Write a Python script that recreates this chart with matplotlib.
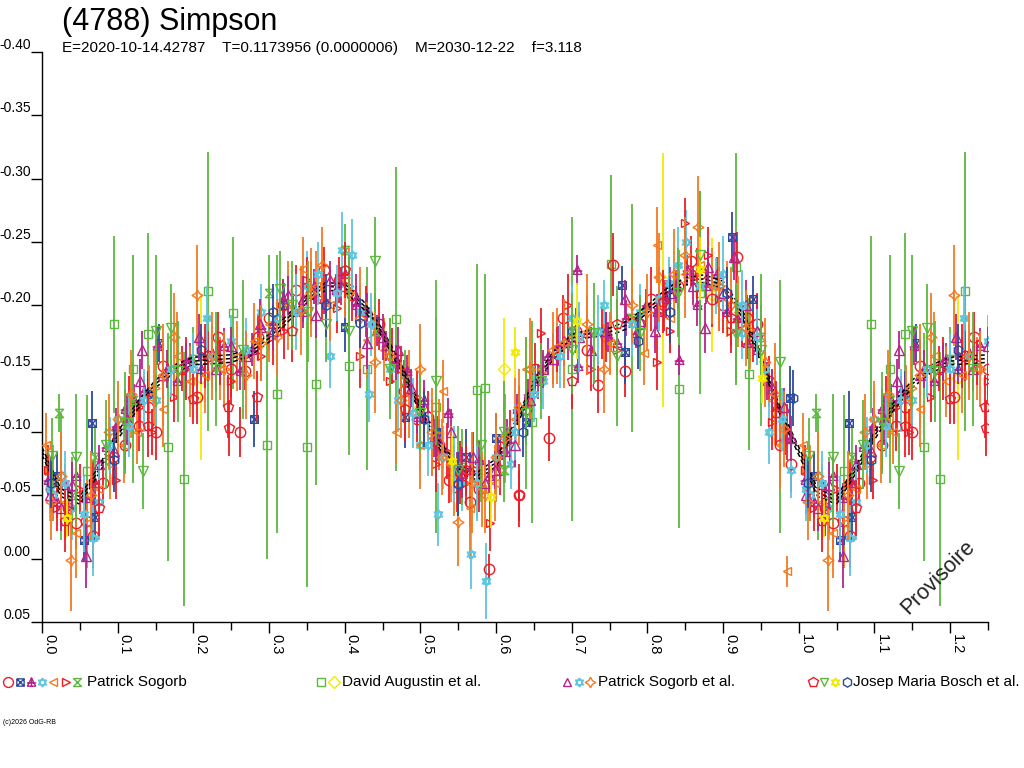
import numpy as np
import matplotlib
matplotlib.use('Agg')
import matplotlib.pyplot as plt
from matplotlib.path import Path

plt.rcParams['font.family'] = ['Liberation Sans', 'DejaVu Sans']
plt.rcParams['axes.unicode_minus'] = False

# ---- text ----
title = '(4788) Simpson'
subtitle = 'E=2020-10-14.42787    T=0.1173956 (0.0000006)    M=2030-12-22    f=3.118'
observers = ['Patrick Sogorb', 'David Augustin et al.', 'Patrick Sogorb et al.',
             'Josep Maria Bosch et al.']

ytick_vals = [-0.40, -0.35, -0.30, -0.25, -0.20, -0.15, -0.10, -0.05, 0.00, 0.05]
ytick_labels = ['-0.40', '-0.35', '-0.30', '-0.25', '-0.20', '-0.15', '-0.10',
                '-0.05', '0.00', '0.05']
xtick_vals = [0.0, 0.1, 0.2, 0.3, 0.4, 0.5, 0.6, 0.7, 0.8, 0.9, 1.0, 1.1, 1.2]
xtick_labels = ['0.0', '0.1', '0.2', '0.3', '0.4', '0.5', '0.6', '0.7', '0.8',
                '0.9', '1.0', '1.1', '1.2']

# ---- fourier fit (phase, mag) ----
fit_ph = [0.000, 0.025, 0.050, 0.075, 0.100, 0.125, 0.150, 0.175, 0.200, 0.225,
          0.250, 0.275, 0.300, 0.325, 0.350, 0.375, 0.400, 0.425, 0.450, 0.475,
          0.500, 0.525, 0.550, 0.575, 0.600, 0.625, 0.650, 0.675, 0.700, 0.725,
          0.750, 0.775, 0.800, 0.825, 0.850, 0.875, 0.900, 0.925, 0.950, 0.975,
          1.000]
fit_mag = [-0.085, -0.052, -0.046, -0.070, -0.097, -0.120, -0.138, -0.150, -0.156,
           -0.157, -0.158, -0.163, -0.174, -0.190, -0.205, -0.215, -0.214, -0.200,
           -0.178, -0.150, -0.118, -0.090, -0.071, -0.065, -0.076, -0.105, -0.138,
           -0.160, -0.174, -0.178, -0.179, -0.185, -0.197, -0.210, -0.219, -0.221,
           -0.216, -0.194, -0.158, -0.117, -0.085]

# ---- Patrick Sogorb ----
ps_circ_ph = [0.012, 0.045, 0.068, 0.094, 0.128, 0.150, 0.160, 0.205, 0.232, 0.262,
              0.268, 0.300, 0.335, 0.372, 0.410, 0.445, 0.478, 0.510, 0.538, 0.566,
              0.590, 0.618, 0.630, 0.652, 0.670, 0.688, 0.720, 0.735, 0.755, 0.770,
              0.790, 0.822, 0.858, 0.885, 0.918, 0.945, 0.975,
              0.035, 0.058, 0.080, 0.110, 0.140, 0.185, 0.220, 0.250, 0.285, 0.318,
              0.355, 0.392, 0.428, 0.462, 0.495, 0.525, 0.552, 0.578, 0.605, 0.640,
              0.705, 0.745, 0.805, 0.840, 0.870, 0.900, 0.932, 0.960, 0.990]
ps_circ_mag = [-0.055, -0.028, -0.018, -0.080, -0.105, -0.100, -0.152, -0.128, -0.175,
               -0.100, -0.148, -0.190, -0.212, -0.228, -0.208, -0.185, -0.132, -0.112,
               -0.062, -0.045, 0.008, -0.095, -0.050, -0.150, -0.095, -0.190, -0.165,
               -0.137, -0.232, -0.148, -0.185, -0.200, -0.235, -0.205, -0.238, -0.185,
               -0.090,
               -0.040, -0.030, -0.060, -0.090, -0.120, -0.150, -0.160, -0.150, -0.175,
               -0.200, -0.210, -0.220, -0.195, -0.160, -0.110, -0.090, -0.068, -0.055,
               -0.070, -0.118, -0.180, -0.175, -0.205, -0.215, -0.225, -0.200, -0.190,
               -0.140, -0.075]
ps_circ_err = [0.018, 0.020, 0.025, 0.015, 0.020, 0.022, 0.018, 0.022, 0.020, 0.020,
               0.015, 0.025, 0.020, 0.018, 0.020, 0.020, 0.025, 0.020, 0.018, 0.020,
               0.012, 0.022, 0.020, 0.020, 0.018, 0.018, 0.020, 0.022, 0.025, 0.020,
               0.018, 0.020, 0.020, 0.022, 0.020, 0.025, 0.020,
               0.020, 0.022, 0.018, 0.020, 0.025, 0.018, 0.020, 0.022, 0.018, 0.020,
               0.025, 0.018, 0.020, 0.022, 0.018, 0.020, 0.025, 0.018, 0.020, 0.022,
               0.018, 0.020, 0.025, 0.018, 0.020, 0.022, 0.018, 0.020, 0.022]

ps_box_ph = [0.020, 0.055, 0.066, 0.070, 0.140, 0.155, 0.280, 0.320, 0.400, 0.440,
             0.480, 0.520, 0.560, 0.600, 0.640, 0.700, 0.766, 0.770, 0.912, 0.940,
             0.988]
ps_box_mag = [-0.065, -0.015, -0.107, -0.033, -0.130, -0.170, -0.110, -0.200, -0.183,
              -0.188, -0.112, -0.100, -0.080, -0.095, -0.108, -0.180, -0.216, -0.163,
              -0.254, -0.205, -0.127]
ps_box_err = [0.020, 0.018, 0.025, 0.020, 0.018, 0.015, 0.022, 0.018, 0.020, 0.018,
              0.025, 0.020, 0.022, 0.020, 0.018, 0.020, 0.015, 0.025, 0.020, 0.018,
              0.025]

ps_trid_ph = [0.008, 0.030, 0.058, 0.085, 0.110, 0.135, 0.152, 0.178, 0.210, 0.240,
              0.262, 0.290, 0.318, 0.345, 0.372, 0.400, 0.430, 0.455, 0.482, 0.505,
              0.530, 0.536, 0.578, 0.602, 0.628, 0.655, 0.682, 0.707, 0.708, 0.760,
              0.785, 0.812, 0.838, 0.842, 0.866, 0.905, 0.932, 0.958, 0.982,
              0.020, 0.045, 0.070, 0.098, 0.122, 0.165, 0.195, 0.225, 0.278, 0.305,
              0.332, 0.360, 0.388, 0.415, 0.442, 0.468, 0.495, 0.518, 0.548, 0.565,
              0.590, 0.615, 0.642, 0.668, 0.695, 0.720, 0.748, 0.772, 0.798, 0.825,
              0.852, 0.878, 0.892, 0.918, 0.945, 0.970]
ps_trid_mag = [-0.062, -0.058, -0.048, -0.088, -0.118, -0.132, -0.168, -0.140, -0.150,
               -0.168, -0.148, -0.182, -0.205, -0.195, -0.205, -0.225, -0.195, -0.168,
               -0.148, -0.125, -0.085, -0.115, -0.078, -0.082, -0.118, -0.140, -0.168,
               -0.228, -0.152, -0.170, -0.178, -0.195, -0.215, -0.157, -0.200, -0.195,
               -0.170, -0.140, -0.095,
               -0.045, -0.065, -0.060, -0.105, -0.125, -0.150, -0.158, -0.162, -0.165,
               -0.185, -0.195, -0.215, -0.212, -0.200, -0.180, -0.155, -0.112, -0.095,
               -0.072, -0.070, -0.065, -0.095, -0.130, -0.160, -0.170, -0.178, -0.175,
               -0.190, -0.200, -0.205, -0.228, -0.215, -0.225, -0.190, -0.165, -0.120]
ps_trid_err = [0.012, 0.015, 0.012, 0.014, 0.016, 0.012, 0.015, 0.013, 0.012, 0.014,
               0.015, 0.012, 0.016, 0.013, 0.012, 0.014, 0.015, 0.012, 0.013, 0.016,
               0.014, 0.012, 0.015, 0.013, 0.012, 0.014, 0.016, 0.012, 0.013, 0.015,
               0.012, 0.014, 0.013, 0.012, 0.016, 0.014, 0.012, 0.015, 0.013,
               0.013, 0.015, 0.012, 0.014, 0.013, 0.015, 0.012, 0.014, 0.013, 0.015,
               0.012, 0.014, 0.013, 0.015, 0.012, 0.014, 0.013, 0.015, 0.012, 0.014,
               0.013, 0.015, 0.012, 0.014, 0.013, 0.015, 0.012, 0.014, 0.013, 0.015,
               0.012, 0.014, 0.013, 0.015, 0.012, 0.014]

ps_star_ph = [0.015, 0.040, 0.068, 0.100, 0.150, 0.218, 0.250, 0.290, 0.350, 0.381,
              0.397, 0.420, 0.432, 0.470, 0.500, 0.523, 0.555, 0.567, 0.587, 0.620,
              0.662, 0.700, 0.742, 0.790, 0.828, 0.851, 0.890, 0.925, 0.960, 0.990]
ps_star_mag = [-0.050, -0.040, -0.016, -0.110, -0.125, -0.190, -0.172, -0.195, -0.215,
               -0.160, -0.244, -0.195, -0.130, -0.125, -0.090, -0.035, -0.060, -0.004,
               0.018, -0.075, -0.140, -0.190, -0.200, -0.195, -0.218, -0.250, -0.215,
               -0.178, -0.100, -0.070]
ps_star_err = [0.020, 0.025, 0.030, 0.022, 0.020, 0.025, 0.020, 0.022, 0.028, 0.025,
               0.030, 0.020, 0.022, 0.025, 0.020, 0.025, 0.022, 0.028, 0.030, 0.020,
               0.022, 0.025, 0.020, 0.022, 0.020, 0.025, 0.022, 0.020, 0.025, 0.022]

ps_left_ph = [0.005, 0.030, 0.060, 0.090, 0.125, 0.160, 0.195, 0.235, 0.280, 0.345,
              0.380, 0.430, 0.468, 0.500, 0.525, 0.530, 0.582, 0.610, 0.640, 0.680,
              0.720, 0.795, 0.812, 0.830, 0.870, 0.905, 0.935, 0.965, 0.984,
              0.015, 0.045, 0.075, 0.108, 0.142, 0.178, 0.215, 0.258, 0.300, 0.325,
              0.362, 0.400, 0.452, 0.485, 0.515, 0.545, 0.565, 0.598, 0.625, 0.660,
              0.700, 0.750, 0.850, 0.885, 0.920, 0.950, 0.975]
ps_left_mag = [-0.090, -0.045, -0.028, -0.075, -0.100, -0.118, -0.140, -0.150, -0.172,
               -0.229, -0.200, -0.173, -0.100, -0.090, -0.098, -0.132, -0.055, -0.098,
               -0.150, -0.168, -0.180, -0.162, -0.248, -0.190, -0.232, -0.205, -0.178,
               -0.125, 0.010,
               -0.060, -0.020, -0.055, -0.090, -0.128, -0.160, -0.145, -0.160, -0.185,
               -0.200, -0.215, -0.220, -0.165, -0.130, -0.095, -0.062, -0.040, -0.060,
               -0.110, -0.150, -0.175, -0.170, -0.225, -0.215, -0.195, -0.160, -0.090]
ps_left_err = [0.025, 0.030, 0.035, 0.028, 0.025, 0.030, 0.028, 0.025, 0.030, 0.025,
               0.028, 0.030, 0.025, 0.035, 0.028, 0.025, 0.030, 0.028, 0.025, 0.030,
               0.028, 0.025, 0.030, 0.028, 0.025, 0.030, 0.028, 0.025, 0.012,
               0.030, 0.035, 0.028, 0.030, 0.025, 0.035, 0.030, 0.028, 0.030, 0.035,
               0.028, 0.030, 0.025, 0.035, 0.030, 0.028, 0.040, 0.030, 0.035, 0.028,
               0.030, 0.025, 0.035, 0.030, 0.028, 0.030, 0.035]

ps_right_ph = [0.020, 0.050, 0.098, 0.115, 0.145, 0.175, 0.215, 0.250, 0.290, 0.320,
               0.350, 0.390, 0.420, 0.460, 0.495, 0.520, 0.548, 0.575, 0.592, 0.630,
               0.660, 0.695, 0.725, 0.760, 0.812, 0.830, 0.850, 0.880, 0.910, 0.940,
               0.965,
               0.008, 0.035, 0.068, 0.130, 0.190, 0.235, 0.270, 0.305, 0.370, 0.405,
               0.440, 0.475, 0.505, 0.535, 0.560, 0.610, 0.645, 0.680, 0.710, 0.740,
               0.780, 0.865, 0.895, 0.925, 0.955, 0.985]
ps_right_mag = [-0.040, -0.055, -0.062, -0.122, -0.100, -0.128, -0.160, -0.140, -0.160,
                -0.180, -0.220, -0.198, -0.160, -0.140, -0.128, -0.075, -0.055, -0.070,
                -0.028, -0.118, -0.178, -0.200, -0.150, -0.165, -0.155, -0.180, -0.265,
                -0.240, -0.180, -0.175, -0.108,
                -0.070, -0.040, -0.060, -0.120, -0.150, -0.155, -0.160, -0.175, -0.205,
                -0.215, -0.185, -0.150, -0.110, -0.085, -0.060, -0.090, -0.130, -0.165,
                -0.175, -0.180, -0.190, -0.225, -0.205, -0.185, -0.150, -0.100]
ps_right_err = [0.018, 0.020, 0.015, 0.022, 0.018, 0.020, 0.025, 0.018, 0.020, 0.022,
                0.018, 0.020, 0.025, 0.018, 0.020, 0.022, 0.018, 0.020, 0.022, 0.018,
                0.020, 0.025, 0.018, 0.020, 0.022, 0.018, 0.020, 0.022, 0.018, 0.020,
                0.022,
                0.020, 0.022, 0.018, 0.020, 0.025, 0.018, 0.020, 0.022, 0.018, 0.020,
                0.025, 0.018, 0.020, 0.022, 0.018, 0.020, 0.025, 0.018, 0.020, 0.022,
                0.018, 0.020, 0.025, 0.018, 0.020, 0.022]

ps_glass_ph = [0.023, 0.040, 0.070, 0.120, 0.200, 0.300, 0.400, 0.440, 0.480, 0.555,
               0.610, 0.700, 0.780, 0.870, 0.950]
ps_glass_mag = [-0.115, -0.050, -0.080, -0.125, -0.158, -0.210, -0.244, -0.180, -0.140,
                -0.072, -0.070, -0.180, -0.190, -0.215, -0.175]
ps_glass_err = [0.015, 0.030, 0.025, 0.030, 0.025, 0.030, 0.020, 0.030, 0.025, 0.030,
                0.025, 0.030, 0.025, 0.030, 0.025]

# ---- David Augustin et al. ----
da_sq_ph = [0.025, 0.060, 0.095, 0.140, 0.166, 0.187, 0.220, 0.253, 0.297, 0.350,
            0.362, 0.405, 0.468, 0.575, 0.586, 0.647, 0.752, 0.842, 0.917, 0.934,
            0.120, 0.310, 0.430, 0.520, 0.700, 0.780, 0.870, 0.975]
da_sq_mag = [-0.065, -0.069, -0.185, -0.177, -0.088, -0.063, -0.211, -0.194, -0.090,
             -0.088, -0.138, -0.152, -0.189, -0.133, -0.135, -0.108, -0.233, -0.134,
             -0.230, -0.146,
             -0.150, -0.130, -0.150, -0.120, -0.150, -0.190, -0.210, -0.120]
da_sq_err = [0.050, 0.060, 0.070, 0.080, 0.090, 0.100, 0.110, 0.060, 0.090, 0.110,
             0.080, 0.070, 0.120, 0.100, 0.090, 0.080, 0.070, 0.110, 0.090, 0.060,
             0.090, 0.110, 0.080, 0.100, 0.120, 0.090, 0.080, 0.100]

da_dia_ph = [0.210, 0.500, 0.610, 0.820, 0.885]
da_dia_mag = [-0.143, -0.120, -0.150, -0.220, -0.208]
da_dia_err = [0.065, 0.050, 0.040, 0.100, 0.045]

# ---- Patrick Sogorb et al. ----
pse_tri_ph = [0.010, 0.040, 0.058, 0.095, 0.130, 0.132, 0.208, 0.250, 0.288, 0.325,
              0.362, 0.395, 0.430, 0.470, 0.505, 0.540, 0.570, 0.598, 0.625, 0.662,
              0.690, 0.725, 0.770, 0.810, 0.876, 0.880, 0.915, 0.945, 0.965, 0.990,
              0.025, 0.075, 0.112, 0.160, 0.190, 0.230, 0.270, 0.305, 0.345, 0.380,
              0.415, 0.450, 0.488, 0.522, 0.555, 0.585, 0.612, 0.645, 0.675, 0.710,
              0.745, 0.790, 0.830, 0.860, 0.900, 0.930, 0.980]
pse_tri_mag = [-0.050, -0.058, -0.002, -0.085, -0.140, -0.165, -0.175, -0.168, -0.185,
               -0.208, -0.192, -0.215, -0.170, -0.165, -0.120, -0.100, -0.080, -0.070,
               -0.090, -0.150, -0.172, -0.165, -0.205, -0.180, -0.182, -0.230, -0.238,
               -0.180, -0.135, -0.095,
               -0.040, -0.075, -0.110, -0.145, -0.155, -0.150, -0.160, -0.180, -0.205,
               -0.220, -0.205, -0.175, -0.135, -0.095, -0.068, -0.060, -0.085, -0.125,
               -0.158, -0.175, -0.180, -0.188, -0.210, -0.215, -0.210, -0.200, -0.120]
pse_tri_err = [0.015, 0.018, 0.025, 0.015, 0.018, 0.015, 0.018, 0.015, 0.020, 0.015,
               0.018, 0.015, 0.020, 0.018, 0.015, 0.018, 0.020, 0.015, 0.018, 0.015,
               0.020, 0.018, 0.015, 0.018, 0.020, 0.015, 0.018, 0.020, 0.015, 0.018,
               0.018, 0.015, 0.020, 0.018, 0.015, 0.018, 0.020, 0.015, 0.018, 0.015,
               0.020, 0.018, 0.015, 0.018, 0.020, 0.015, 0.018, 0.015, 0.020, 0.018,
               0.015, 0.018, 0.020, 0.015, 0.018, 0.020, 0.015]

pse_star_ph = [0.030, 0.075, 0.115, 0.170, 0.225, 0.310, 0.365, 0.410, 0.460, 0.510,
               0.545, 0.600, 0.650, 0.710, 0.780, 0.840, 0.870, 0.925, 0.955, 0.978,
               0.010, 0.055, 0.090, 0.135, 0.200, 0.270, 0.335, 0.390, 0.435, 0.490,
               0.530, 0.575, 0.625, 0.685, 0.735, 0.815, 0.900, 0.945]
pse_star_mag = [-0.060, -0.045, -0.105, -0.150, -0.160, -0.190, -0.225, -0.240, -0.150,
                -0.090, -0.075, -0.080, -0.130, -0.175, -0.185, -0.232, -0.215, -0.200,
                -0.150, -0.110,
                -0.055, -0.035, -0.090, -0.125, -0.150, -0.165, -0.195, -0.210, -0.185,
                -0.115, -0.080, -0.060, -0.100, -0.160, -0.180, -0.205, -0.225, -0.175]
pse_star_err = [0.025, 0.030, 0.025, 0.022, 0.025, 0.030, 0.025, 0.028, 0.030, 0.025,
                0.030, 0.025, 0.022, 0.028, 0.025, 0.030, 0.025, 0.028, 0.022, 0.025,
                0.025, 0.030, 0.022, 0.025, 0.028, 0.025, 0.030, 0.022, 0.025, 0.028,
                0.025, 0.030, 0.022, 0.025, 0.028, 0.025, 0.030, 0.022]

pse_spark_ph = [0.012, 0.038, 0.065, 0.088, 0.118, 0.148, 0.175, 0.205, 0.240, 0.270,
                0.310, 0.342, 0.370, 0.405, 0.440, 0.475, 0.500, 0.528, 0.550, 0.585,
                0.612, 0.645, 0.675, 0.742, 0.780, 0.815, 0.850, 0.867, 0.895, 0.930,
                0.955, 0.980,
                0.025, 0.100, 0.160, 0.225, 0.290, 0.355, 0.420, 0.460, 0.515, 0.540,
                0.568, 0.600, 0.630, 0.690, 0.720, 0.800, 0.835, 0.910, 0.968]
pse_spark_mag = [-0.045, 0.001, -0.050, -0.100, -0.130, -0.135, -0.175, -0.208, -0.150,
                 -0.145, -0.175, -0.196, -0.232, -0.210, -0.155, -0.125, -0.150, -0.080,
                 -0.029, -0.050, -0.095, -0.150, -0.165, -0.150, -0.200, -0.222, -0.240,
                 -0.262, -0.215, -0.182, -0.155, -0.102,
                 -0.065, -0.110, -0.145, -0.160, -0.170, -0.210, -0.190, -0.160, -0.100,
                 -0.075, -0.060, -0.080, -0.120, -0.170, -0.185, -0.195, -0.225, -0.200,
                 -0.130]
pse_spark_err = [0.030, 0.040, 0.035, 0.030, 0.035, 0.030, 0.035, 0.040, 0.030, 0.035,
                 0.030, 0.035, 0.030, 0.035, 0.040, 0.030, 0.035, 0.030, 0.035, 0.030,
                 0.035, 0.040, 0.030, 0.035, 0.030, 0.035, 0.030, 0.040, 0.035, 0.030,
                 0.035, 0.030,
                 0.035, 0.030, 0.040, 0.035, 0.030, 0.035, 0.040, 0.030, 0.035, 0.030,
                 0.040, 0.035, 0.030, 0.035, 0.040, 0.030, 0.035, 0.030, 0.040]

# ---- Josep Maria Bosch et al. ----
jmb_pent_ph = [0.030, 0.075, 0.140, 0.200, 0.246, 0.247, 0.284, 0.330, 0.400, 0.480,
               0.560, 0.630, 0.700, 0.760, 0.820, 0.910, 0.970]
jmb_pent_mag = [-0.030, -0.040, -0.105, -0.126, -0.120, -0.103, -0.128, -0.180, -0.228,
                -0.118, -0.070, -0.050, -0.140, -0.185, -0.203, -0.190, -0.115]
jmb_pent_err = [0.025, 0.022, 0.025, 0.020, 0.025, 0.022, 0.020, 0.025, 0.022, 0.025,
                0.020, 0.025, 0.022, 0.020, 0.025, 0.022, 0.025]

jmb_down_ph = [0.013, 0.085, 0.110, 0.133, 0.170, 0.180, 0.315, 0.330, 0.352, 0.375,
               0.440, 0.460, 0.500, 0.550, 0.610, 0.660, 0.700, 0.730, 0.790, 0.840,
               0.917, 0.975,
               0.045, 0.150, 0.230, 0.265, 0.405, 0.520, 0.580, 0.640, 0.760, 0.870,
               0.950]
jmb_down_mag = [-0.081, -0.090, -0.107, -0.069, -0.182, -0.148, -0.213, -0.200, -0.195,
                -0.185, -0.235, -0.150, -0.115, -0.070, -0.100, -0.140, -0.165, -0.178,
                -0.178, -0.210, -0.177, -0.155,
                -0.080, -0.180, -0.150, -0.165, -0.180, -0.140, -0.090, -0.115, -0.160,
                -0.240, -0.165]
jmb_down_err = [0.030, 0.035, 0.040, 0.030, 0.035, 0.040, 0.030, 0.035, 0.040, 0.030,
                0.035, 0.040, 0.030, 0.035, 0.040, 0.030, 0.035, 0.040, 0.030, 0.035,
                0.040, 0.030,
                0.050, 0.060, 0.045, 0.055, 0.060, 0.050, 0.045, 0.060, 0.055, 0.050,
                0.060]

jmb_star_ph = [0.033, 0.542, 0.593, 0.625, 0.707, 0.870, 0.952]
jmb_star_mag = [-0.032, -0.077, -0.049, -0.163, -0.188, -0.229, -0.143]
jmb_star_err = [0.015, 0.020, 0.025, 0.020, 0.030, 0.025, 0.020]

jmb_hex_ph = [0.012, 0.095, 0.210, 0.305, 0.375, 0.420, 0.505, 0.550, 0.635, 0.787,
              0.830, 0.905, 0.992]
jmb_hex_mag = [-0.060, -0.078, -0.165, -0.195, -0.200, -0.186, -0.110, -0.059, -0.100,
               -0.172, -0.195, -0.210, -0.127]
jmb_hex_err = [0.020, 0.025, 0.020, 0.022, 0.025, 0.020, 0.022, 0.025, 0.020, 0.022,
               0.025, 0.020, 0.022]

# ---- colours ----
RED = '#ee1c24'
BLUE = '#2e4a9e'
MAGENTA = '#b5248a'
CYAN = '#5ec6de'
ORANGE = '#f47a20'
GREEN = '#5cb83e'
YELLOW = '#f2ea00'

# ---- custom markers ----
M, L = Path.MOVETO, Path.LINETO
hourglass = Path([(-1, 1), (1, 1), (-1, -1), (1, -1), (-1, 1)], [M, L, L, L, L])
boxx = Path([(-1, 1), (1, 1), (-1, -1), (1, -1), (-1, 1),
             (-1, 1), (-1, -1), (1, 1), (1, -1)],
            [M, L, L, L, L, M, L, M, L])
trident = Path([(-0.9, -0.8), (0.9, -0.8), (0, 1), (-0.9, -0.8),
                (-1, -0.1), (1, -0.1), (0, -1), (0, 1)],
               [M, L, L, L, M, L, M, L])
david = Path([(0, 1), (0.87, -0.5), (-0.87, -0.5), (0, 1),
              (0, -1), (0.87, 0.5), (-0.87, 0.5), (0, -1)],
             [M, L, L, L, M, L, L, L])
spark = (4, 1, 0)

# (phase, mag, err, marker, colour, size)
group1 = [(ps_circ_ph, ps_circ_mag, ps_circ_err, 'o', RED, 7.5),
          (ps_box_ph, ps_box_mag, ps_box_err, boxx, BLUE, 5.5),
          (ps_trid_ph, ps_trid_mag, ps_trid_err, trident, MAGENTA, 7),
          (ps_star_ph, ps_star_mag, ps_star_err, david, CYAN, 7),
          (ps_left_ph, ps_left_mag, ps_left_err, '<', ORANGE, 6),
          (ps_right_ph, ps_right_mag, ps_right_err, '>', RED, 6),
          (ps_glass_ph, ps_glass_mag, ps_glass_err, hourglass, GREEN, 6)]
group2 = [(da_sq_ph, da_sq_mag, da_sq_err, 's', GREEN, 6),
          (da_dia_ph, da_dia_mag, da_dia_err, 'D', YELLOW, 6)]
group3 = [(pse_tri_ph, pse_tri_mag, pse_tri_err, '^', MAGENTA, 6.5),
          (pse_star_ph, pse_star_mag, pse_star_err, david, CYAN, 7),
          (pse_spark_ph, pse_spark_mag, pse_spark_err, spark, ORANGE, 8)]
group4 = [(jmb_pent_ph, jmb_pent_mag, jmb_pent_err, 'p', RED, 7.5),
          (jmb_down_ph, jmb_down_mag, jmb_down_err, 'v', GREEN, 6.5),
          (jmb_star_ph, jmb_star_mag, jmb_star_err, david, YELLOW, 7),
          (jmb_hex_ph, jmb_hex_mag, jmb_hex_err, 'h', BLUE, 7)]


def wrap(ph, mag, err):
    '''repeat the first quarter of the phase after 1.0'''
    ph, mag, err = np.asarray(ph), np.asarray(mag), np.asarray(err)
    sel = ph <= 0.25
    return (np.concatenate([ph, ph[sel] + 1.0]),
            np.concatenate([mag, mag[sel]]),
            np.concatenate([err, err[sel]]))


fig = plt.figure(figsize=(10.24, 7.68), dpi=100)
ax = fig.add_axes([42 / 1024, 1 - 622 / 768, 946 / 1024, 570 / 768])


def draw(series, z):
    for ph, mag, err, mk, col, ms in series:
        x, y, e = wrap(ph, mag, err)
        ax.errorbar(x, y, yerr=e, fmt='none', ecolor=col, elinewidth=1.3,
                    capsize=0, zorder=z)
        ax.plot(x, y, ls='none', marker=mk, ms=ms, mfc='none', mec=col,
                mew=1.0, zorder=z + 0.1)


draw(group2, 2)
draw(group1, 3)

# fit band
fph = np.asarray(fit_ph)
fmag = np.asarray(fit_mag)
sel = (fph > 0) & (fph <= 0.25)
fx = np.concatenate([fph, fph[sel] + 1.0])
fy = np.concatenate([fmag, fmag[sel]])
fit_band = 0.003
for off in (-fit_band, 0.0, fit_band):
    ax.plot(fx, fy + off, color='black', lw=1.1, ls=(0, (3, 2)), zorder=3.5)

draw(group3, 4)
draw(group4, 5)

ax.set_xlim(0, 1.25)
ax.set_ylim(0.05, -0.40)
ax.set_xticks(xtick_vals)
ax.set_xticklabels(xtick_labels, rotation=-90, ha='left', va='top', fontsize=10.5)
ax.set_xticks(np.arange(0.05, 1.26, 0.1), minor=True)
ax.set_yticks(ytick_vals)
ax.set_yticklabels(ytick_labels, va='bottom', fontsize=10)
ax.tick_params(axis='x', which='major', direction='out', length=8, width=1, pad=1)
ax.tick_params(axis='x', which='minor', direction='out', length=6, width=1)
ax.tick_params(axis='y', direction='out', length=8, width=1, pad=0)
for s in ('top', 'right'):
    ax.spines[s].set_visible(False)
for s in ('left', 'bottom'):
    ax.spines[s].set_linewidth(1)

# titles
fig.text(62 / 1024, 1 - 22 / 768, title, fontsize=22, va='center')
fig.text(62 / 1024, 1 - 48 / 768, subtitle, fontsize=11, va='center')
fig.text(938 / 1024, 1 - 577 / 768, 'Provisoire', rotation=45, fontsize=15.5,
         ha='center', va='center', color='#222222')
fig.text(3 / 1024, 1 - 722 / 768, '(c)2026 OdG-RB', fontsize=5, va='center')

# legend row (pixel positions of the markers and labels)
lax = fig.add_axes([0, 0, 1, 1])
lax.set_xlim(0, 1024)
lax.set_ylim(768, 0)
lax.axis('off')
leg_y = 682
leg_marker_x = [[8, 20, 31, 42, 53, 66, 77], [321, 334], [567, 579, 590],
                [813, 824, 835, 847]]
leg_text_x = [87, 342, 598, 853]
for grp, xs, tx, name in zip([group1, group2, group3, group4], leg_marker_x,
                             leg_text_x, observers):
    for (ph, mag, err, mk, col, ms), mx in zip(grp, xs):
        lax.plot([mx], [leg_y], ls='none', marker=mk, ms=ms * 0.95, mfc='none',
                 mec=col, mew=1.0)
    lax.text(tx, leg_y, name, fontsize=11, va='center', ha='left')

fig.savefig('out.png', dpi=100)
